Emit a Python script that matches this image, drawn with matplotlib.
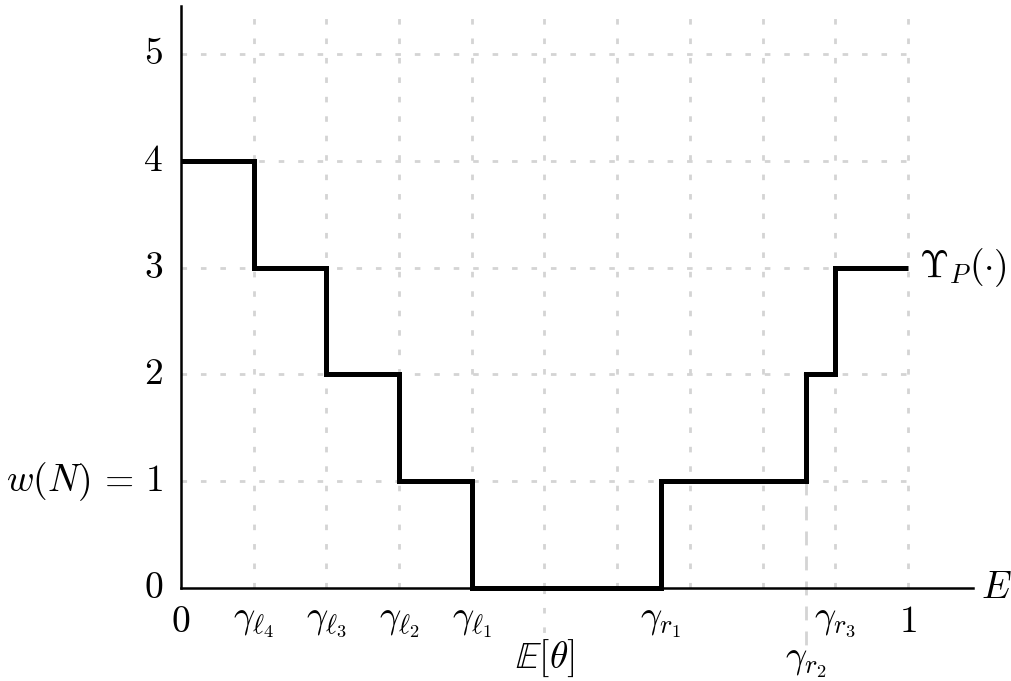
import matplotlib
matplotlib.use("Agg")
import matplotlib.pyplot as plt

plt.rcParams["mathtext.fontset"] = "cm"
plt.rcParams["font.family"] = "serif"
plt.rcParams["font.serif"] = ["DejaVu Serif"]

# step function Upsilon_P
edges = [0.0, 0.1, 0.2, 0.3, 0.4, 0.66, 0.86, 0.9, 1.0]
levels = [4, 3, 2, 1, 0, 1, 2, 3]

# x-axis labels, upper row
x_ticks = [0.0, 0.1, 0.2, 0.3, 0.4, 0.66, 0.9, 1.0]
x_labels = [r"$0$", r"$\gamma_{\ell_4}$", r"$\gamma_{\ell_3}$", r"$\gamma_{\ell_2}$",
            r"$\gamma_{\ell_1}$", r"$\gamma_{r_1}$", r"$\gamma_{r_3}$", r"$1$"]
# lower row
x_ticks_low = [0.5, 0.86]
x_labels_low = [r"$\mathbb{E}[\theta]$", r"$\gamma_{r_2}$"]

y_ticks = [0, 1, 2, 3, 4, 5]
y_labels = [r"$0$", r"$w(N)\,=\,1$", r"$2$", r"$3$", r"$4$", r"$5$"]

fig = plt.figure(figsize=(10.11, 6.81), dpi=100)
ax = fig.add_axes([0, 0, 1, 1])
ax.set_xlim(-181 / 727, (1011 - 181) / 727)
ax.set_ylim(-(681 - 588) / 106.8, 588 / 106.8)
ax.axis("off")

grid_kw = dict(color="#d4d4d4", lw=2, dashes=(2, 5), zorder=1)
for gx in [0.1 * i for i in range(1, 11)]:
    ax.plot([gx, gx], [0, 5.45], **grid_kw)
for gy in y_ticks[1:]:
    ax.plot([0, 1], [gy, gy], **grid_kw)

# extra guide lines below the axis
ax.plot([0.5, 0.5], [0, -0.42], **grid_kw)
ax.plot([0.86, 0.86], [1, -0.62], color="#d4d4d4", lw=2, dashes=(5, 4), zorder=1)

# axes
ax.plot([0, 1.09], [0, 0], color="black", lw=1.8, zorder=3)
ax.plot([0, 0], [0, 5.45], color="black", lw=1.8, zorder=3)

# step line
xs, ys = [], []
for i, lv in enumerate(levels):
    xs += [edges[i], edges[i + 1]]
    ys += [lv, lv]
ax.plot(xs, ys, color="black", lw=3.6, solid_capstyle="butt", solid_joinstyle="miter", zorder=4)

fs = 27
for x, lab in zip(x_ticks, x_labels):
    ax.text(x, -0.15, lab, ha="center", va="top", fontsize=fs)
ax.text(x_ticks_low[0], -0.855, x_labels_low[0], ha="center", va="bottom", fontsize=fs)
ax.text(x_ticks_low[1], -0.52, x_labels_low[1], ha="center", va="top", fontsize=fs)

for y, lab in zip(y_ticks, y_labels):
    ax.text(-0.025, y, lab, ha="right", va="center", fontsize=fs)

ax.text(1.1, 0, r"$E$", ha="left", va="center", fontsize=fs)
ax.text(1.015, 3, r"$\Upsilon_P(\cdot)$", ha="left", va="center", fontsize=fs)

fig.savefig("out.png", dpi=100)
